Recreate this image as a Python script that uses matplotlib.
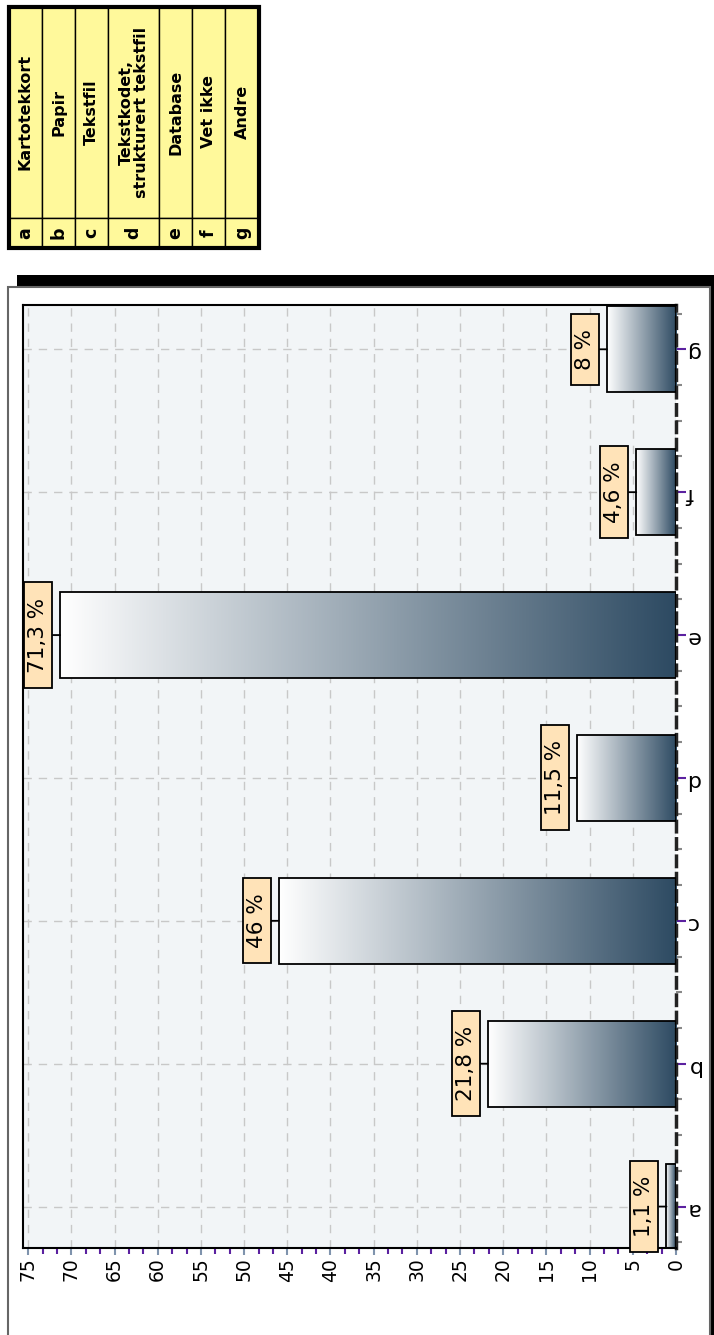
import numpy as np
import matplotlib
matplotlib.use("Agg")
import matplotlib.pyplot as plt
from matplotlib.patches import Rectangle
from matplotlib.path import Path
from matplotlib.colors import LinearSegmentedColormap
from matplotlib.ticker import MultipleLocator

# data
categories = ["a", "b", "c", "d", "e", "f", "g"]
values = [1.1, 21.8, 46, 11.5, 71.3, 4.6, 8]
descriptions = ["Kartotekkort", "Papir", "Tekstfil", "Tekstkodet,\nstrukturert tekstfil",
                "Database", "Vet ikke", "Andre"]
value_ticks = list(range(0, 80, 5))

plt.rcParams['font.family'] = ['DejaVu Sans']


def label_box(x0, y0, width, height, mutation_size):
    """box round the value label, wide padding along the text"""
    px, py = 15, 4
    x0, y0 = x0 - px, y0 - py
    x1, y1 = x0 + width + 2 * px, y0 + height + 2 * py
    return Path([(x0, y0), (x1, y0), (x1, y1), (x0, y1), (x0, y0)], closed=True)


fig = plt.figure(figsize=(7.14, 13.35), dpi=100)

# background layer in pixel coordinates (frame + legend table)
bg = fig.add_axes([0, 0, 1, 1])
bg.set_xlim(0, 714)
bg.set_ylim(1335, 0)
bg.axis('off')
bg.add_patch(Rectangle((17, 275), 720, 1100, fc='black', ec='none'))
bg.add_patch(Rectangle((8, 287), 702, 1100, fc='white', ec='#666666', lw=1.5))

yellow = '#FFF99B'
col_w = [33, 33, 33, 51, 33, 33, 34]
x = 9
for cat, desc, w in zip(categories, descriptions, col_w):
    bg.add_patch(Rectangle((x, 7), w, 211, fc=yellow, ec='black', lw=1))
    bg.add_patch(Rectangle((x, 218), w, 30, fc=yellow, ec='black', lw=1))
    bg.text(x + w / 2, 112, desc, rotation=90, ha='center', va='center',
            fontsize=11.5, fontweight='bold', multialignment='center', linespacing=1.0)
    bg.text(x + w / 2, 233, cat, rotation=90, ha='center', va='center',
            fontsize=12.5, fontweight='bold')
    x += w
bg.add_patch(Rectangle((9, 7), x - 9, 241, fc='none', ec='black', lw=3))

# chart
ax = fig.add_axes([23 / 714, 87 / 1335, 653 / 714, 943 / 1335])
ax.set_facecolor('#F2F5F7')
ax.set_axisbelow(True)

pos = np.arange(len(categories))
bar_h = 0.6
cmap = LinearSegmentedColormap.from_list('bar', ['#FFFFFF', '#2D4A62'])
grad = np.linspace(0, 1, 256).reshape(1, -1)
for y, v in zip(pos, values):
    ax.imshow(grad, extent=(v, 0, y - bar_h / 2, y + bar_h / 2), cmap=cmap,
              aspect='auto', zorder=2)
ax.barh(pos, values, height=bar_h, fill=False, edgecolor='black', lw=1.3, zorder=3)

for y, v in zip(pos, values):
    lab = ('%g' % v).replace('.', ',') + ' %'
    ax.annotate(lab, xy=(v, y), xytext=(-22, 0), textcoords='offset pixels',
                rotation=90, ha='center', va='center', fontsize=15.5, zorder=5,
                bbox=dict(boxstyle=label_box, fc='#FFE3B8', ec='black', lw=1.3),
                arrowprops=dict(arrowstyle='-', color='black', lw=1.3, shrinkA=0, shrinkB=0))

ax.set_xlim(75.6, 0)
ax.set_ylim(-0.29, 6.31)

ax.set_xticks(value_ticks)
ax.xaxis.set_minor_locator(MultipleLocator(5 / 3))
ax.yaxis.tick_right()
ax.set_yticks(pos)
ax.set_yticklabels(categories)
ax.yaxis.set_minor_locator(MultipleLocator(0.25))

ax.grid(True, which='major', color='#C8C8C8', linestyle=(0, (6, 5)), lw=1)

ax.tick_params(axis='x', which='major', direction='out', length=5, width=1.5,
               color='#7F93AD', labelsize=13.5, labelrotation=90, pad=2)
ax.tick_params(axis='x', which='minor', direction='out', length=4, width=1.5, color='#5B21A0')
ax.tick_params(axis='y', which='major', direction='out', length=7, width=1.5,
               color='#5B21A0', labelsize=16, labelrotation=180, pad=0)
ax.tick_params(axis='y', which='minor', direction='out', length=4, width=1.5, color='#888888')

for side in ['left', 'top', 'bottom']:
    ax.spines[side].set_color('black')
    ax.spines[side].set_linewidth(1.5)
ax.spines['right'].set_linestyle((0, (3, 2)))
ax.spines['right'].set_linewidth(2.5)
ax.spines['right'].set_color('#222222')

fig.savefig('out.png', dpi=100)
